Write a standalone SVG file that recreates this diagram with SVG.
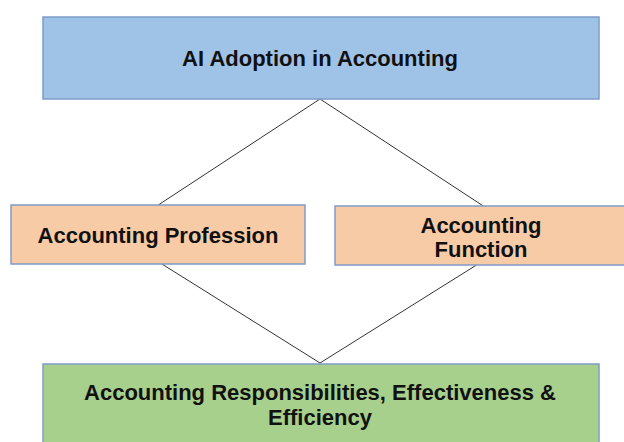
<svg xmlns="http://www.w3.org/2000/svg" width="624" height="442" viewBox="0 0 624 442">
<style>
.box{stroke:#7f9cc6;stroke-width:1.5}
.t{font-family:"Liberation Sans",Arial,sans-serif;font-weight:bold;font-size:22px;fill:#111;text-anchor:middle}
.c{fill:none;stroke:#333;stroke-width:1}
</style>
<rect width="624" height="442" fill="#fff"/>
<g id="connectors">
<polygon class="c" points="320,99 526,234 320,363 114,234"/>
</g>
<g id="ai-adoption">
<rect class="box" x="43" y="17" width="556" height="82" fill="#9fc3e7"/>
<text class="t" x="320" y="66">AI Adoption in Accounting</text>
</g>
<g id="accounting-profession">
<rect class="box" x="11" y="205" width="294" height="59" fill="#f8cba7"/>
<text class="t" x="158" y="243">Accounting Profession</text>
</g>
<g id="accounting-function">
<rect class="box" x="335" y="206" width="290" height="59" fill="#f8cba7"/>
<text class="t" x="481" y="233">Accounting</text>
<text class="t" x="481" y="257">Function</text>
</g>
<g id="accounting-responsibilities">
<rect class="box" x="43" y="364" width="556" height="90" fill="#a8d08d"/>
<text class="t" x="320" y="400">Accounting Responsibilities, Effectiveness &amp;</text>
<text class="t" x="320" y="425">Efficiency</text>
</g>
</svg>
